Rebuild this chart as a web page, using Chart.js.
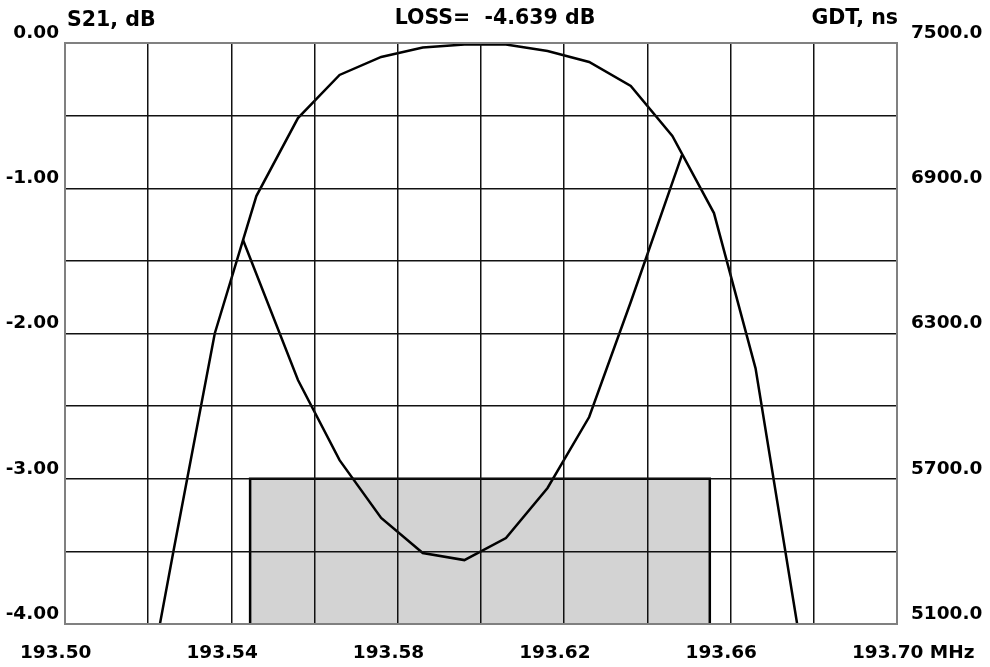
<!DOCTYPE html>
<html>
<head>
<meta charset="utf-8">
<script src="https://cdn.jsdelivr.net/npm/chart.js@4.4.1/dist/chart.umd.min.js"></script>
<style>
  html, body { margin: 0; padding: 0; background: #ffffff; }
  canvas { display: block; }
</style>
</head>
<body>
<canvas id="c" width="990" height="667"></canvas>
<script>
// ---------------- data ----------------
const s21Freq = [193.516, 193.526, 193.536, 193.546, 193.556, 193.566, 193.576, 193.586, 193.596,
                 193.606, 193.616, 193.626, 193.636, 193.646, 193.656, 193.666, 193.676, 193.686];
const s21Db   = [-5.05, -3.51, -2.00, -1.054, -0.517, -0.220, -0.096, -0.031, -0.010,
                 -0.010, -0.055, -0.131, -0.296, -0.640, -1.171, -2.240, -4.000, -5.600];

const gdtFreq = [193.5428, 193.556, 193.566, 193.576, 193.586, 193.596, 193.606, 193.616, 193.626, 193.636, 193.6483];
const gdtNs   = [6686, 6108, 5777, 5538, 5393, 5364, 5455, 5662, 5955, 6430, 7037];

const maskFreq  = [193.5445, 193.655];
const maskTopDb = -3.0;

const xGridValues  = [193.50, 193.52, 193.54, 193.56, 193.58, 193.60, 193.62, 193.64, 193.66, 193.68, 193.70];
const xLabelValues = [193.50, 193.54, 193.58, 193.62, 193.66, 193.70];
const xLabels      = ['193.50', '193.54', '193.58', '193.62', '193.66', '193.70 MHz'];

const yLeftGridValues  = [-4.0, -3.5, -3.0, -2.5, -2.0, -1.5, -1.0, -0.5, 0.0];
const yLeftLabelValues = [0, -1, -2, -3, -4];
const yLeftLabels      = ['0.00', '-1.00', '-2.00', '-3.00', '-4.00'];

const yRightLabelValues = [7500, 6900, 6300, 5700, 5100];
const yRightLabels      = ['7500.0', '6900.0', '6300.0', '5700.0', '5100.0'];

const titleText    = 'LOSS=  -4.639 dB';
const leftCaption  = 'S21, dB';
const rightCaption = 'GDT, ns';

// ---------------- helpers ----------------
const near = (a, b) => Math.abs(a - b) < 1e-6;
function labelFor(values, labels, v) {
  const i = values.findIndex(x => near(x, v));
  return i >= 0 ? labels[i] : '';
}
const FONT = '"DejaVu Sans", sans-serif';
const GRID = '#111111';
const FRAME = '#808080';

const yMin = yLeftGridValues[0];
const yMax = yLeftGridValues[yLeftGridValues.length - 1];
const xMin = xGridValues[0];
const xMax = xGridValues[xGridValues.length - 1];

const s21Data = s21Freq.map((f, i) => ({ x: f, y: s21Db[i] }));
const gdtData = gdtFreq.map((f, i) => ({ x: f, y: gdtNs[i] }));
const maskData = [
  { x: maskFreq[0], y: yMin }, { x: maskFreq[0], y: maskTopDb },
  { x: maskFreq[1], y: maskTopDb }, { x: maskFreq[1], y: yMin }
];

const captionPlugin = {
  id: 'captions',
  afterDraw(chart) {
    const { ctx, chartArea } = chart;
    ctx.save();
    ctx.font = 'bold 20.5px ' + FONT;
    ctx.fillStyle = '#000';
    ctx.textBaseline = 'middle';
    ctx.textAlign = 'left';
    ctx.fillText(leftCaption, chartArea.left + 2, 21);
    ctx.textAlign = 'right';
    ctx.fillText(rightCaption, chartArea.right + 1, 19);
    ctx.restore();
  }
};

new Chart(document.getElementById('c'), {
  type: 'line',
  data: {
    datasets: [
      { label: 'S21', data: s21Data, yAxisID: 'y', borderColor: '#000', borderWidth: 2.5,
        pointRadius: 0, tension: 0, fill: false, order: 1, clip: 0 },
      { label: 'GDT', data: gdtData, yAxisID: 'y2', borderColor: '#000', borderWidth: 2.5,
        pointRadius: 0, tension: 0, fill: false, order: 2, clip: 0 },
      { label: 'mask', data: maskData, yAxisID: 'y', borderColor: '#000', borderWidth: 2.5,
        backgroundColor: '#d3d3d3', pointRadius: 0, tension: 0, fill: 'start', order: 3, clip: 0 }
    ]
  },
  options: {
    responsive: false,
    animation: false,
    devicePixelRatio: 1,
    layout: { padding: 0 },
    plugins: {
      legend: { display: false },
      tooltip: { enabled: false },
      title: {
        display: true, text: titleText, color: '#000',
        font: { family: FONT, size: 20.5, weight: 'bold', lineHeight: 1.2 },
        padding: { top: 6, bottom: 12.4 }
      }
    },
    scales: {
      x: {
        type: 'linear', min: xMin, max: xMax,
        afterBuildTicks: s => { s.ticks = xGridValues.map(v => ({ value: v })); },
        afterFit: s => { s.height = 43; s.paddingLeft = 0; s.paddingRight = 0; },
        grid: {
          z: 1, drawTicks: false,
          color: c => (c.tick && (near(c.tick.value, xMin) || near(c.tick.value, xMax))) ? 'rgba(0,0,0,0)' : GRID,
          lineWidth: 1.5
        },
        border: { display: true, color: FRAME, width: 2, z: 1 },
        ticks: {
          autoSkip: false, maxRotation: 0, minRotation: 0,
          align: 'start', labelOffset: -45, padding: 18, color: '#000',
          font: { family: FONT, size: 18.5, weight: 'bold' },
          callback: v => labelFor(xLabelValues, xLabels, v)
        }
      },
      y: {
        type: 'linear', position: 'left', min: yMin, max: yMax,
        afterBuildTicks: s => { s.ticks = yLeftGridValues.map(v => ({ value: v })); },
        afterFit: s => { s.width = 65; },
        grid: {
          z: 1, drawTicks: false,
          color: c => {
            if (!c.tick) return GRID;
            if (near(c.tick.value, yMax)) return FRAME;
            if (near(c.tick.value, yMin)) return 'rgba(0,0,0,0)';
            return GRID;
          },
          lineWidth: c => (c.tick && near(c.tick.value, yMax)) ? 2 : 1.5
        },
        border: { display: true, color: FRAME, width: 2, z: 1 },
        ticks: {
          autoSkip: false, padding: 6, labelOffset: -10, color: '#000',
          font: { family: FONT, size: 18.5, weight: 'bold' },
          callback: v => labelFor(yLeftLabelValues, yLeftLabels, v)
        }
      },
      y2: {
        type: 'linear', position: 'right',
        min: yRightLabelValues[yRightLabelValues.length - 1], max: yRightLabelValues[0],
        afterBuildTicks: s => { s.ticks = yRightLabelValues.map(v => ({ value: v })); },
        afterFit: s => { s.width = 93; },
        grid: { display: false, drawTicks: false },
        border: { display: true, color: FRAME, width: 2, z: 1 },
        ticks: {
          autoSkip: false, padding: 14, labelOffset: -10, color: '#000',
          font: { family: FONT, size: 18.5, weight: 'bold' },
          callback: v => labelFor(yRightLabelValues, yRightLabels, v)
        }
      }
    }
  },
  plugins: [captionPlugin]
});
</script>
</body>
</html>
